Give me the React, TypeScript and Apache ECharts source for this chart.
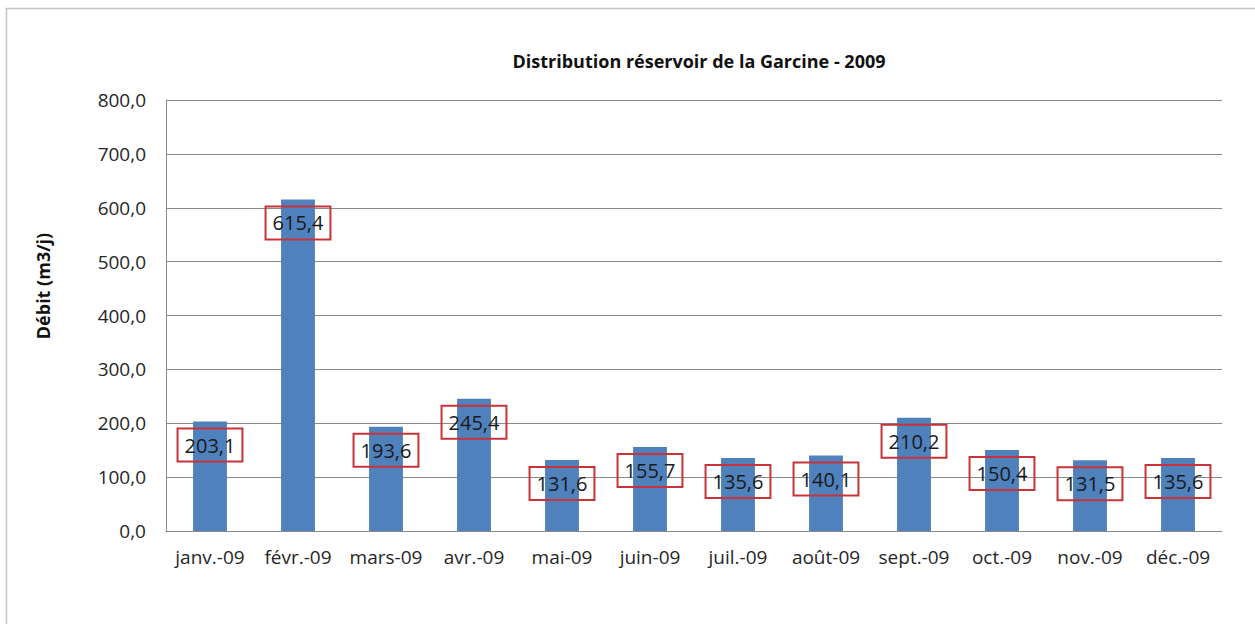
import React, { useEffect, useRef } from "react";
import * as echarts from "echarts";

const categories = [
  "janv.-09", "févr.-09", "mars-09", "avr.-09", "mai-09", "juin-09",
  "juil.-09", "août-09", "sept.-09", "oct.-09", "nov.-09", "déc.-09",
];
const debit = [203.1, 615.4, 193.6, 245.4, 131.6, 155.7, 135.6, 140.1, 210.2, 150.4, 131.5, 135.6];
const titleText = "Distribution réservoir de la Garcine - 2009";
const yAxisName = "Débit (m3/j)";

const fmt = (v: number) => v.toFixed(1).replace(".", ",");
const FONT = "'Open Sans', 'Noto Sans', sans-serif";

export default function App() {
  const ref = useRef<HTMLDivElement>(null);
  useEffect(() => {
    if (!ref.current) return;
    const chart = echarts.init(ref.current, undefined, { renderer: "svg" });
    chart.setOption({
      animation: false,
      backgroundColor: "#ffffff",
      title: {
        text: titleText,
        left: 694,
        top: 47,
        textAlign: "center",
        textStyle: { fontFamily: FONT, fontWeight: "bold", fontSize: 18, color: "#111111" },
      },
      graphic: [
        {
          type: "rect",
          shape: { x: 6.5, y: 8.5, width: 1300, height: 700 },
          style: { fill: "none", stroke: "#c4c4c4", lineWidth: 1.5 },
          silent: true,
        },
        {
          type: "text",
          x: 43,
          y: 286,
          rotation: Math.PI / 2,
          style: {
            text: yAxisName,
            fontFamily: FONT,
            fontWeight: "bold",
            fontSize: 18,
            fill: "#111111",
            align: "center",
            verticalAlign: "middle",
          },
        },
      ],
      grid: { left: 166, top: 100, right: 33, bottom: 93, containLabel: false },
      xAxis: {
        type: "category",
        data: categories,
        axisTick: { show: false },
        axisLine: { show: true, lineStyle: { color: "#8a8a8a", width: 1 } },
        axisLabel: { fontFamily: FONT, fontSize: 19, color: "#262626", margin: 16, interval: 0 },
      },
      yAxis: {
        type: "value",
        min: 0,
        max: 800,
        interval: 100,
        axisTick: { show: false },
        axisLine: { show: true, lineStyle: { color: "#8a8a8a", width: 1 } },
        splitLine: { show: true, lineStyle: { color: "#8a8a8a", width: 1 } },
        axisLabel: {
          fontFamily: FONT,
          fontSize: 19,
          color: "#262626",
          margin: 20,
          formatter: (v: number) => fmt(v),
        },
      },
      series: [
        {
          type: "bar",
          data: debit,
          barWidth: "38.5%",
          itemStyle: { color: "#4f81bd" },
          label: {
            show: true,
            position: "insideTop",
            distance: 7,
            formatter: (p: any) => fmt(p.value),
            fontFamily: FONT,
            fontSize: 20,
            color: "#1a1a1a",
            borderColor: "#c8323a",
            borderWidth: 1,
            padding: [5, 7],
            lineHeight: 23,
            backgroundColor: "transparent",
          },
        },
      ],
    });
    return () => chart.dispose();
  }, []);
  return (
    <div
      ref={ref}
      style={{ position: "fixed", left: 0, top: 0, width: 1255, height: 624 }}
    />
  );
}
